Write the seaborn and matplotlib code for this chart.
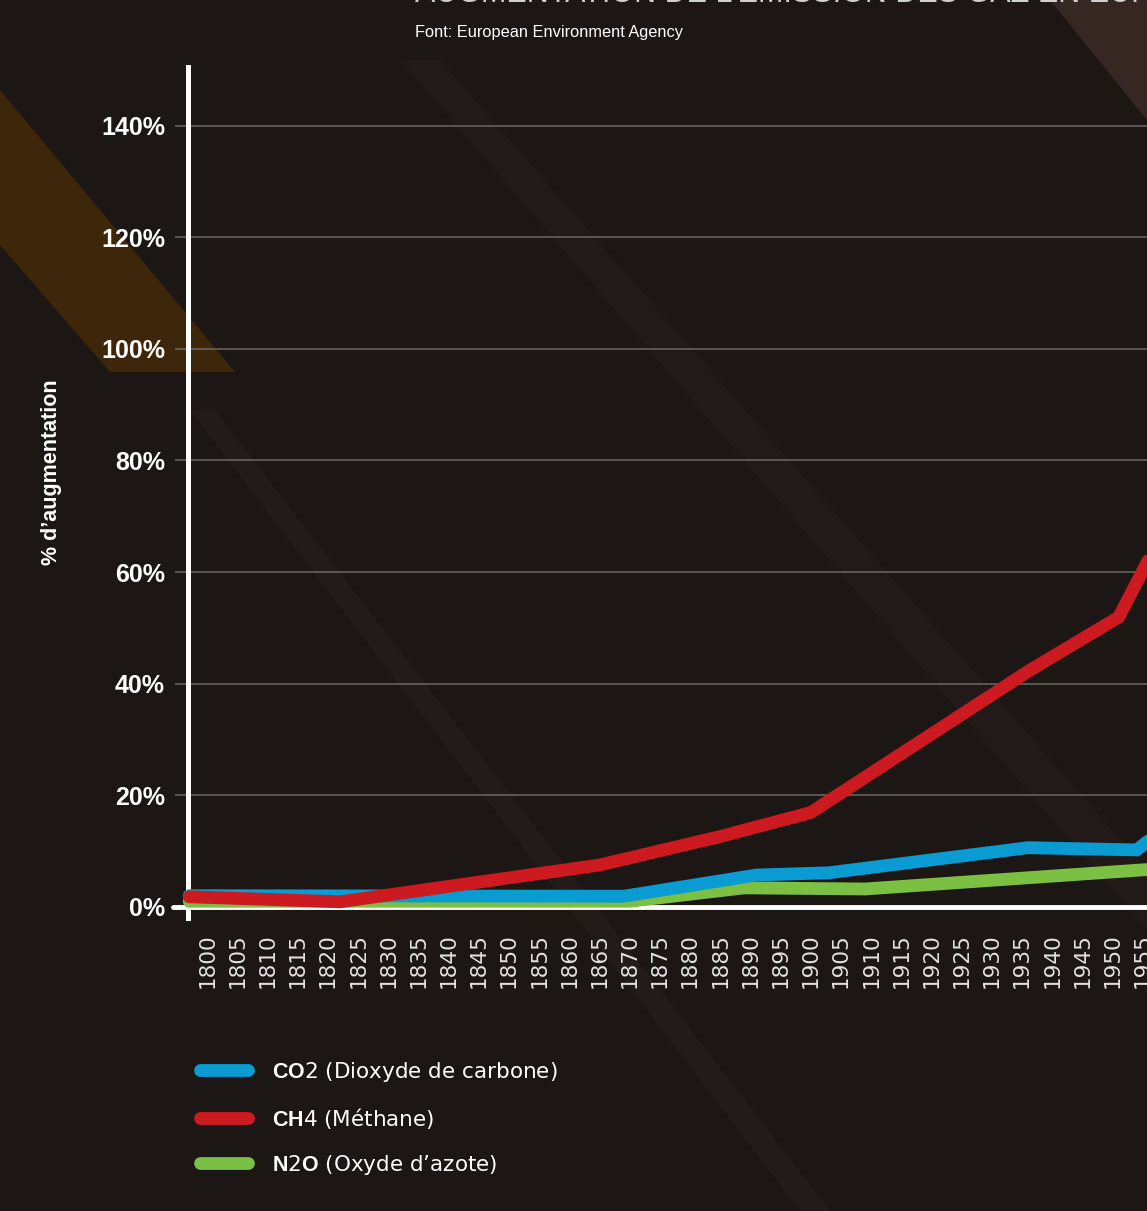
import matplotlib.pyplot as plt
import seaborn as sns
import pandas as pd
from matplotlib.lines import Line2D
from matplotlib.patches import Polygon
from matplotlib import font_manager

# values (year, % increase)
co2_years = [1797, 1869, 1891, 1903, 1936, 1954, 1956]
co2_values = [2.0, 1.9, 5.7, 6.1, 10.6, 10.2, 11.9]
ch4_years = [1797, 1822, 1865, 1885, 1900, 1936, 1951, 1956]
ch4_values = [1.8, 0.9, 7.5, 12.6, 16.9, 42.2, 51.9, 62.3]
n2o_years = [1797, 1870, 1889, 1909, 1956]
n2o_values = [1.0, 1.0, 3.4, 3.2, 6.7]

tick_years = list(range(1800, 1960, 5))
y_ticks = [0, 20, 40, 60, 80, 100, 120, 140]
y_tick_labels = [f"{v}%" for v in y_ticks]

gases = ["CO2", "CH4", "N2O"]
gas_labels = [r"$\mathbf{CO}$2 (Dioxyde de carbone)",
              r"$\mathbf{CH}$4 (Méthane)",
              r"$\mathbf{N}$2$\mathbf{O}$ (Oxyde d’azote)"]
colors = {"CO2": "#0a9bd3", "CH4": "#cd1920", "N2O": "#7bc043"}

BG = "#1c1615"
GRID = "#6c6866"

sns.set_theme(style="dark", rc={"axes.facecolor": "none", "figure.facecolor": BG})
plt.rcParams["font.family"] = ["DejaVu Sans"]
plt.rcParams["mathtext.fontset"] = "custom"
plt.rcParams["mathtext.bf"] = "Liberation Sans:bold"
plt.rcParams["mathtext.rm"] = "DejaVu Sans"

names = {f.name for f in font_manager.fontManager.ttflist}
narrow = "Liberation Sans Narrow" in names

df = pd.concat([
    pd.DataFrame({"year": co2_years, "value": co2_values, "gas": "CO2"}),
    pd.DataFrame({"year": ch4_years, "value": ch4_values, "gas": "CH4"}),
    pd.DataFrame({"year": n2o_years, "value": n2o_values, "gas": "N2O"}),
], ignore_index=True)

W, H = 1147, 1211
fig = plt.figure(figsize=(W / 100, H / 100), dpi=100)


def backdrop(points, color, alpha=1.0):
    """Decorative shape of the background photo, in pixel coords from top-left."""
    pts = [(x / W, 1 - y / H) for x, y in points]
    fig.patches.append(Polygon(pts, closed=True, transform=fig.transFigure,
                               facecolor=color, edgecolor="none", alpha=alpha, zorder=-1))


# background photo, roughly
backdrop([(0, 90), (235, 372), (110, 372), (0, 245)], "#45290a", 0.85)
backdrop([(1050, 0), (W, 0), (W, 120)], "#3a2a24", 0.9)
backdrop([(400, 60), (440, 60), (W, 870), (W, 930)], "#3a2c27", 0.22)
backdrop([(190, 410), (215, 410), (830, H), (800, H)], "#3a2e2a", 0.22)

ax = fig.add_axes([188 / W, 1 - 918 / H, (W - 188) / W, (918 - 67) / H])

sns.lineplot(data=df, x="year", y="value", hue="gas", hue_order=["N2O", "CO2", "CH4"],
             palette=colors, linewidth=9.2, estimator=None, legend=False, ax=ax)
for line in ax.lines:
    line.set_solid_capstyle("round")
    line.set_solid_joinstyle("miter")
    line.set_zorder(3)
    line.set_clip_on(False)

ax.set_xlim(1796.8, 1955.7)
ax.set_ylim(-2, 150.5)
ax.axhline(0, xmin=-15 / 959, xmax=1, color="white", lw=3.5, clip_on=False, zorder=2)

ax.set_yticks(y_ticks)
ax.set_yticklabels(y_tick_labels, fontweight="bold", family=["Liberation Sans", "DejaVu Sans"])
ax.set_xticks(tick_years)
ax.set_xticklabels([str(y) for y in tick_years], rotation=90)
ax.tick_params(axis="y", length=9.5, width=1.1, color=GRID, pad=7, labelsize=18, labelcolor="white", left=True)
ax.tick_params(axis="x", length=0, pad=10.8, labelsize=15.5, labelcolor="#e2e2e2")
ax.yaxis.grid(True, color=GRID, lw=1.1)
ax.xaxis.grid(False)
ax.set_axisbelow(True)
ax.set_xlabel("")
ax.set_ylabel("")
for side in ["top", "right", "bottom"]:
    ax.spines[side].set_visible(False)
ax.spines["left"].set_color("white")
ax.spines["left"].set_linewidth(3.6)
ax.spines["left"].set_zorder(2.5)

fig.text(52 / W, 1 - 472 / H, "% d’augmentation", rotation=90, ha="center", va="center",
         color="white", fontsize=15.5, fontweight="bold", family=["Liberation Sans", "DejaVu Sans"])

if narrow:
    fig.text(415 / W, 1 - 33 / H, "Font: European Environment Agency", ha="left", va="center",
             color="white", fontsize=14.2, family=["Liberation Sans Narrow", "DejaVu Sans"])
else:
    fig.text(415 / W, 1 - 33 / H, "Font: European Environment Agency", ha="left", va="center",
             color="white", fontsize=11.8, family=["Liberation Sans", "DejaVu Sans"])

# title sits above the crop, only its lower edge shows
fig.text(415 / W, 1 - 1.5 / H, "AUGMENTATION DE L’ÉMISSION DES GAZ EN EUROPE", ha="left", va="baseline",
         color="#cfcfcf", fontsize=22, family=["Liberation Sans", "DejaVu Sans"])

handles = [Line2D([], [], color=colors[g], lw=9.2, solid_capstyle="round") for g in gases]
fig.legend(handles, gas_labels, loc="upper left", bbox_to_anchor=(199.5 / W, 1 - 1060 / H),
           frameon=False, fontsize=15.5, handlelength=2.25, handletextpad=1.12, labelspacing=1.02,
           borderpad=0, borderaxespad=0, labelcolor="white")

fig.savefig("out.png", dpi=100, facecolor=BG)
